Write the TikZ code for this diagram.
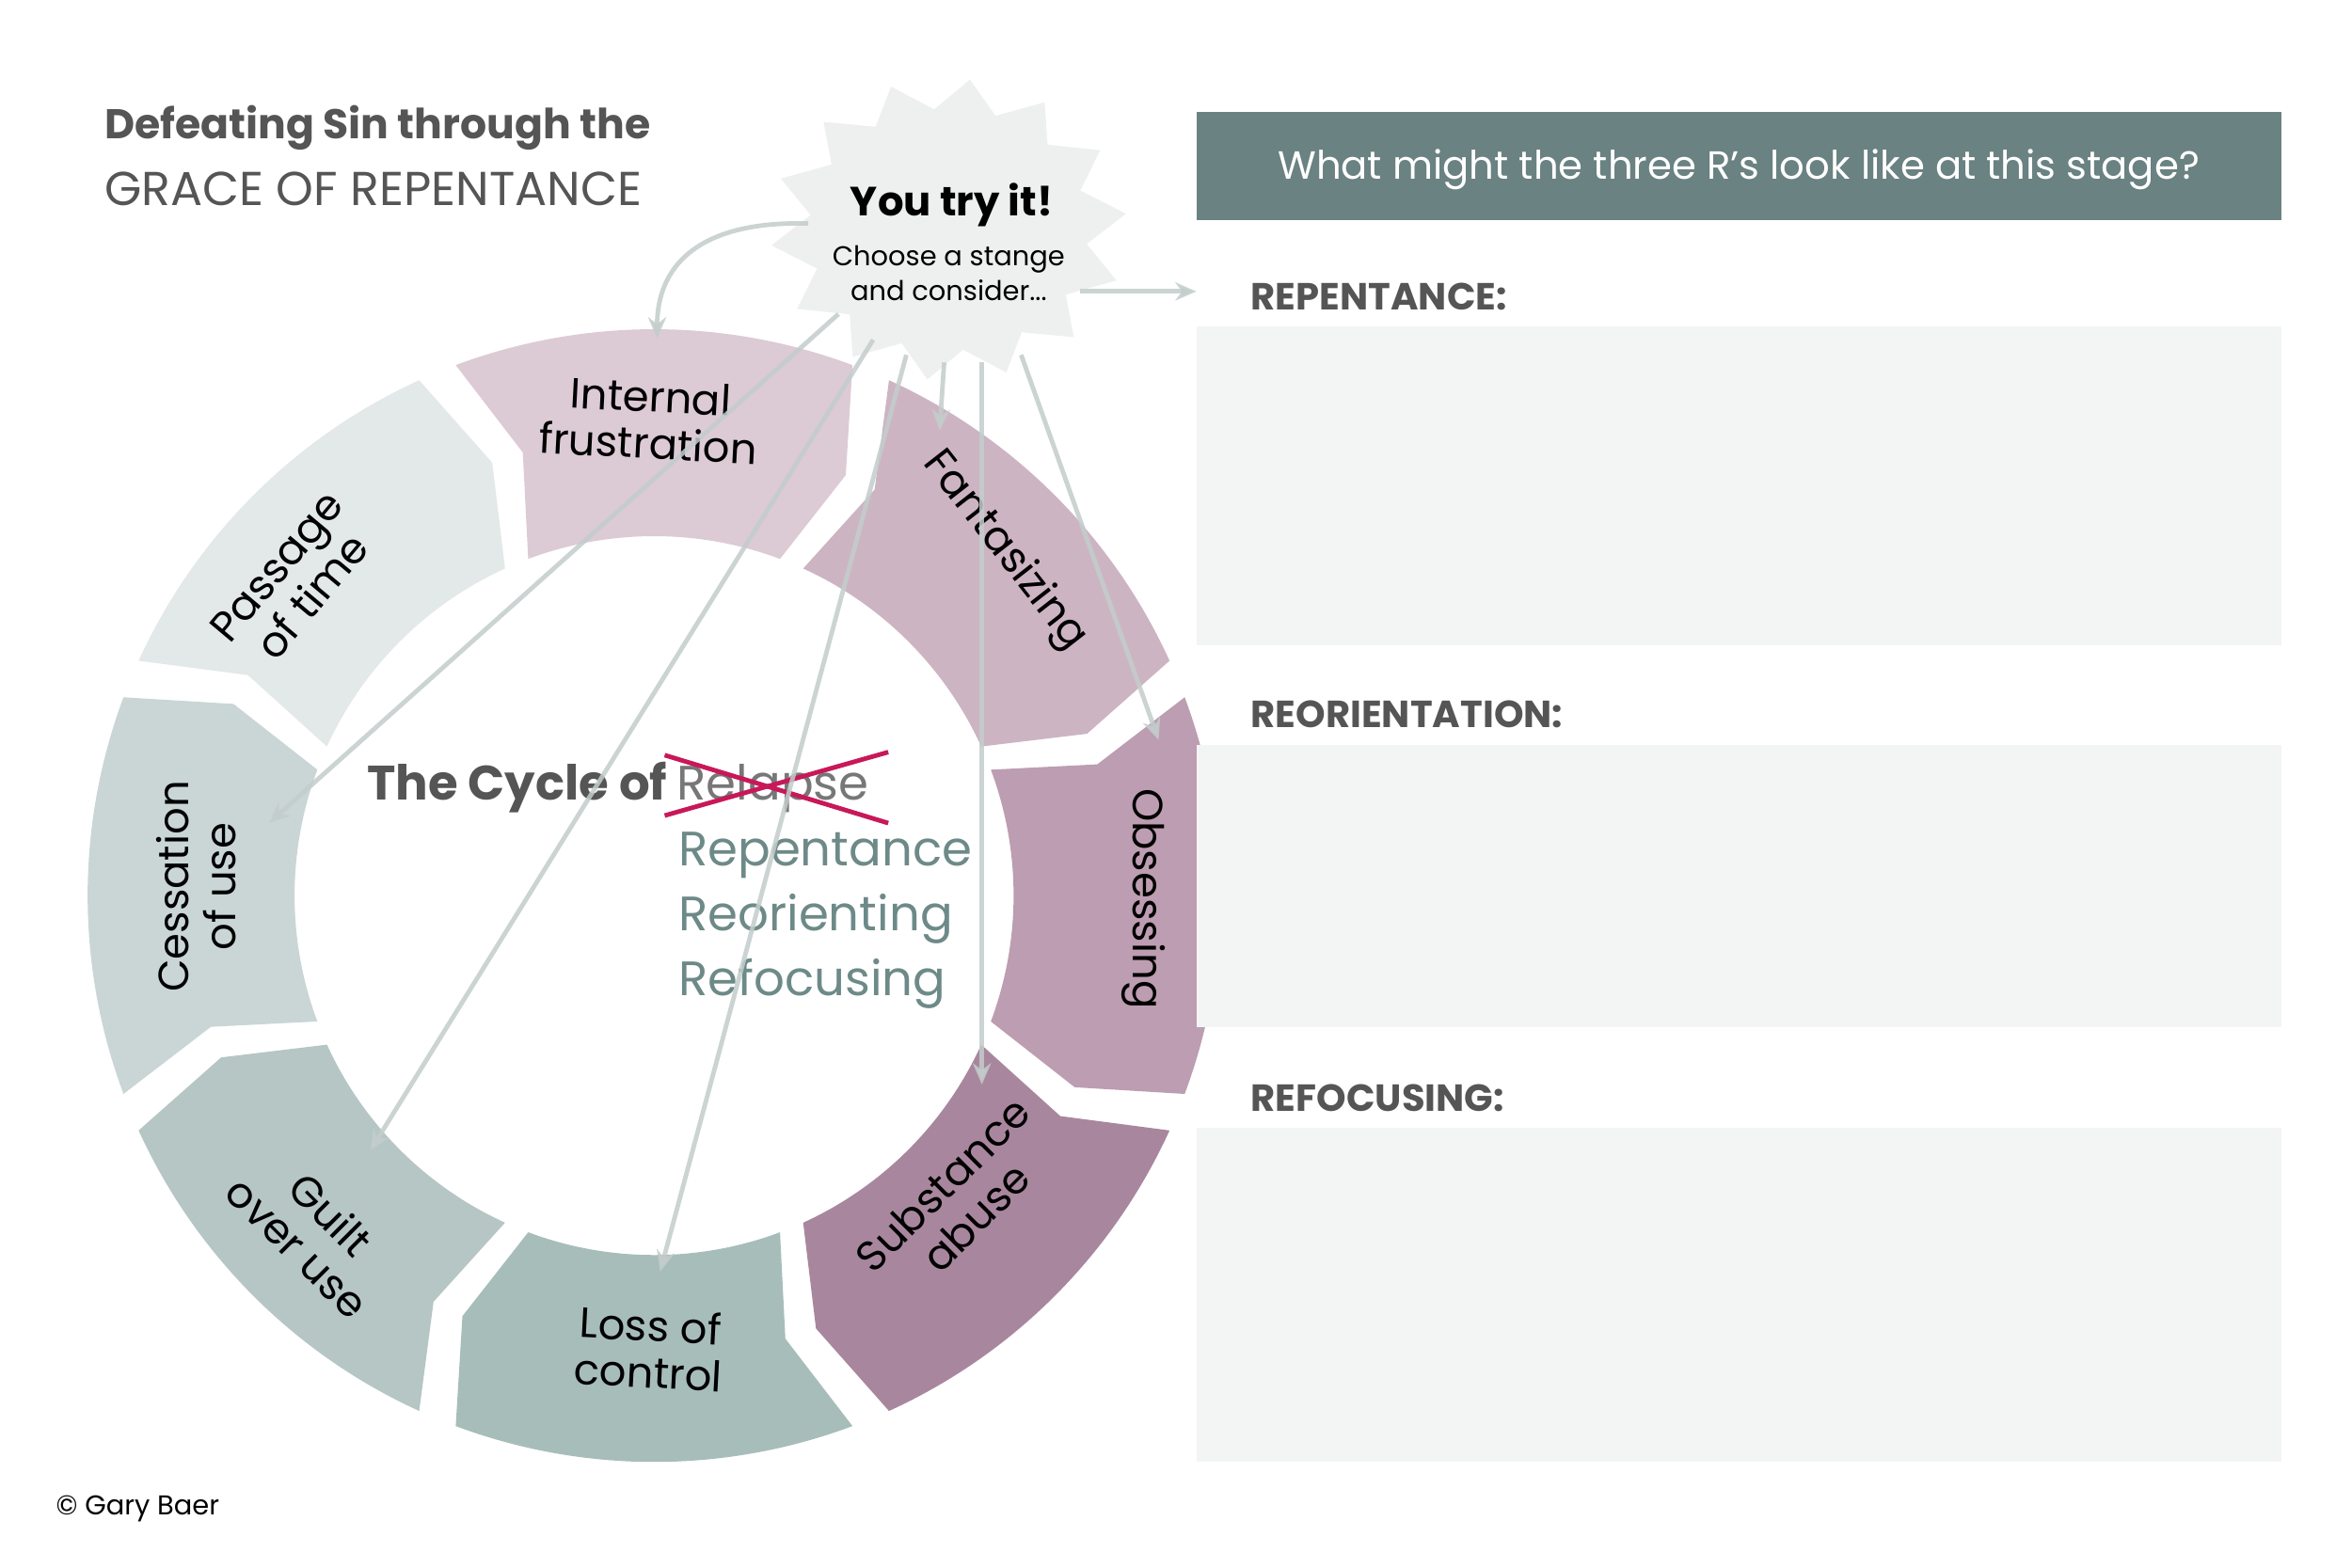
\documentclass[tikz,border=0pt]{standalone}
\usepackage{fontspec}
\setmainfont{Poppins}
\usetikzlibrary{arrows.meta}
\definecolor{tg}{HTML}{555555}
\definecolor{teal}{HTML}{6A8281}
\definecolor{panel}{HTML}{F3F5F4}
\definecolor{rteal}{HTML}{6D8A88}
\definecolor{xred}{HTML}{C8185A}
\definecolor{arr}{HTML}{C3CDCC}
\definecolor{cA}{HTML}{DCCBD4}
\definecolor{cB}{HTML}{CDB4C3}
\definecolor{cC}{HTML}{BD9DB1}
\definecolor{cD}{HTML}{A8879E}
\definecolor{cE}{HTML}{A7BDBA}
\definecolor{cF}{HTML}{B5C6C4}
\definecolor{cG}{HTML}{CAD6D6}
\definecolor{cH}{HTML}{E3E8E8}
\definecolor{star}{HTML}{EEF0EF}
\tikzset{
 lab/.style={font=\fontsize{28}{31}\selectfont, text=black, align=center},
 hd/.style={font=\fontsize{25}{28}\selectfont\bfseries, text=tg, anchor=base west},
 ar/.style={draw=arr, line width=3pt, opacity=0.85, -{Stealth[length=14pt,width=12pt]}},
 rr/.style={font=\fontsize{32}{35}\selectfont, text=rteal, anchor=base west}
}
\begin{document}
\begin{tikzpicture}[x=1pt,y=1pt]
\useasboundingbox (0,0) rectangle (1557,1038);
\fill[white] (0,0) rectangle (1557,1038);
% wheel
\begin{scope}[shift={(433,445)}]
\foreach \c/\col in {90/cA,45/cB,0/cC,-45/cD,-90/cE,-135/cF,180/cG,135/cH}{
 \fill[\col] ({\c+20.5}:375) arc[start angle={\c+20.5}, end angle={\c-20.5}, radius=375]
   -- ({\c-20.5-4}:306) -- ({\c-20.5}:238)
   arc[start angle={\c-20.5}, end angle={\c+20.5}, radius=238]
   -- ({\c+20.5-4}:306) -- cycle;
}
\end{scope}
\node[lab,rotate=-3] (l1) at (430,760) {Internal\\frustration};
\node[lab,rotate=-52] (l2) at (665,673) {Fantasizing};
\node[lab,rotate=-90] (l3) at (757,443) {Obsessing};
\node[lab,rotate=45] (l4) at (635,243) {Substance\\abuse};
\node[lab,rotate=-3] (l5) at (430,145) {Loss of\\control};
\node[lab,rotate=-45] (l6) at (208,223) {Guilt\\over use};
\node[lab,rotate=90] (l7) at (130,451) {Cessation\\of use};
\node[lab,rotate=50] (l8) at (195,653) {Passage\\of time};
% center text
\node[font=\fontsize{32}{35}\selectfont\bfseries, text=tg, anchor=base east, inner sep=0] (cy) at (442,508) {The Cycle of};
\node[font=\fontsize{32}{35}\selectfont, text=tg!80, anchor=base west, inner sep=0] (rel) at (448,508) {Relapse};
\draw[xred, line width=3pt] (440,538) -- (588,493);
\draw[xred, line width=3pt] (440,498) -- (588,540);
\node[rr, inner sep=0] (r1) at (449,465) {Repentance};
\node[rr, inner sep=0] (r2) at (449,422) {Reorienting};
\node[rr, inner sep=0] (r3) at (449,379) {Refocusing};
% starburst
\fill[star] plot[samples=29, domain=0:28, variable=\k] ({628+(mod(\k,2)==0 ? 118 : 92)*cos(\k*360/28+6)}, {886+(mod(\k,2)==0 ? 100 : 80)*sin(\k*360/28+6)}) -- cycle;
\node[font=\fontsize{27}{30}\selectfont\bfseries] (yt) at (630,902) {You try it!};
\node[font=\fontsize{18}{23}\selectfont, align=center] (ch) at (628,857) {Choose a stange\\and consider...};
% arrows
\coordinate (s0) at (535,890);
\coordinate (s1) at (555,830);
\coordinate (s2) at (578,813);
\coordinate (s3) at (600,803);
\coordinate (s4) at (625,798);
\coordinate (s5) at (650,798);
\coordinate (s6) at (676,803);
\coordinate (s7) at (715,845);
\coordinate (e0) at (435,814);
\coordinate (e1) at (178,493);
\coordinate (e2) at (245,276);
\coordinate (e3) at (437,196);
\coordinate (e4) at (622,753);
\coordinate (e5) at (650,320);
\coordinate (e6) at (767,548);
\coordinate (e7) at (792,845);
\draw[ar] (s0) .. controls (460,892) and (435,860) .. (e0);
\draw[ar] (s1) -- (e1);
\draw[ar] (s2) -- (e2);
\draw[ar] (s3) -- (e3);
\draw[ar] (s4) -- (e4);
\draw[ar] (s5) -- (e5);
\draw[ar] (s6) -- (e6);
\draw[ar] (s7) -- (e7);
% title
\node[font=\fontsize{27.5}{30}\selectfont\bfseries, text=tg, anchor=base west, inner sep=0] (t1) at (69,946) {Defeating Sin through the};
\node[font=\fontsize{31.5}{34}\selectfont, text=tg, anchor=base west, inner sep=0] (t2) at (69,902) {GRACE OF REPENTANCE};
\node[font=\fontsize{18}{21}\selectfont, anchor=base west, inner sep=0] (cp) at (37,35) {© Gary Baer};
% right panel
\fill[teal] (792,892) rectangle (1510,964);
\node[font=\fontsize{26}{29}\selectfont, text=white] (hq) at (1151,926) {What might the three R’s look like at this stage?};
\node[hd, inner sep=0] (h1) at (828,833) {REPENTANCE:};
\fill[panel] (792,822) rectangle (1510,611);
\node[hd, inner sep=0] (h2) at (828,556) {REORIENTATION:};
\fill[panel] (792,545) rectangle (1510,358);
\node[hd, inner sep=0] (h3) at (828,302) {REFOCUSING:};
\fill[panel] (792,291) rectangle (1510,70);
\end{tikzpicture}
\end{document}
